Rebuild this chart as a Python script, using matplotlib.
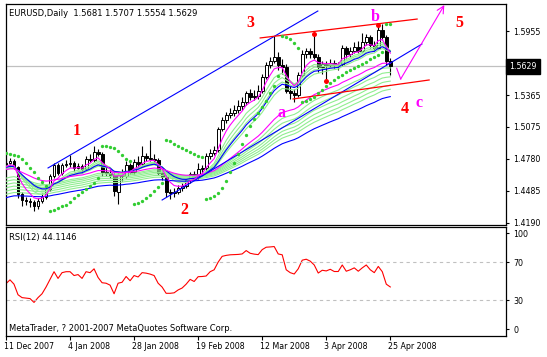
import matplotlib
matplotlib.use("Agg")
import matplotlib.pyplot as plt
import matplotlib.transforms as mtrans
import numpy as np

# ---------------- data ----------------
opens = [1.4700, 1.4740, 1.4760, 1.4700, 1.4450, 1.4400, 1.4390, 1.4380, 1.4340, 1.4390,
         1.4430, 1.4500, 1.4620, 1.4720, 1.4650, 1.4720, 1.4730, 1.4740, 1.4690, 1.4710,
         1.4680, 1.4780, 1.4770, 1.4840, 1.4820, 1.4660, 1.4650, 1.4630, 1.4470, 1.4630,
         1.4620, 1.4720, 1.4660, 1.4750, 1.4730, 1.4800, 1.4790, 1.4780, 1.4770, 1.4650,
         1.4610, 1.4470, 1.4460, 1.4470, 1.4510, 1.4530, 1.4580, 1.4640, 1.4610, 1.4680,
         1.4690, 1.4800, 1.4830, 1.4860, 1.5050, 1.5140, 1.5180, 1.5200, 1.5230, 1.5260,
         1.5300, 1.5380, 1.5350, 1.5360, 1.5400, 1.5530, 1.5640, 1.5680, 1.5720, 1.5640,
         1.5620, 1.5400, 1.5380, 1.5370, 1.5550, 1.5740, 1.5770, 1.5740, 1.5720, 1.5620,
         1.5650, 1.5640, 1.5660, 1.5640, 1.5650, 1.5800, 1.5740, 1.5770, 1.5810, 1.5770,
         1.5850, 1.5900, 1.5830, 1.5800, 1.5960, 1.5900, 1.5681]
highs = [1.4775, 1.4790, 1.4780, 1.4710, 1.4470, 1.4430, 1.4420, 1.4400, 1.4420, 1.4460,
         1.4520, 1.4640, 1.4740, 1.4740, 1.4740, 1.4770, 1.4810, 1.4760, 1.4740, 1.4730,
         1.4800, 1.4820, 1.4900, 1.4870, 1.4840, 1.4700, 1.4680, 1.4650, 1.4660, 1.4680,
         1.4760, 1.4740, 1.4780, 1.4800, 1.4900, 1.4830, 1.4950, 1.4820, 1.4790, 1.4680,
         1.4630, 1.4500, 1.4510, 1.4540, 1.4560, 1.4600, 1.4660, 1.4670, 1.4740, 1.4720,
         1.4830, 1.4870, 1.4900, 1.5070, 1.5160, 1.5210, 1.5250, 1.5270, 1.5320, 1.5350,
         1.5400, 1.5420, 1.5410, 1.5460, 1.5560, 1.5670, 1.5720, 1.5905, 1.5760, 1.5700,
         1.5650, 1.5450, 1.5420, 1.5580, 1.5780, 1.5800, 1.5800, 1.5925, 1.5740, 1.5680,
         1.5680, 1.5700, 1.5690, 1.5670, 1.5830, 1.5820, 1.5810, 1.5850, 1.5860, 1.5940,
         1.5930, 1.5920, 1.5860, 1.6000, 1.6019, 1.5920, 1.5707]
lows = [1.4680, 1.4700, 1.4680, 1.4420, 1.4340, 1.4350, 1.4330, 1.4300, 1.4320, 1.4370,
        1.4410, 1.4480, 1.4600, 1.4630, 1.4630, 1.4700, 1.4700, 1.4670, 1.4680, 1.4650,
        1.4670, 1.4750, 1.4750, 1.4800, 1.4620, 1.4620, 1.4600, 1.4440, 1.4360, 1.4570,
        1.4600, 1.4640, 1.4640, 1.4700, 1.4710, 1.4760, 1.4760, 1.4740, 1.4630, 1.4580,
        1.4430, 1.4410, 1.4430, 1.4450, 1.4480, 1.4510, 1.4560, 1.4590, 1.4590, 1.4650,
        1.4670, 1.4780, 1.4810, 1.4840, 1.5030, 1.5110, 1.5150, 1.5170, 1.5200, 1.5230,
        1.5270, 1.5320, 1.5320, 1.5330, 1.5380, 1.5510, 1.5610, 1.5660, 1.5600, 1.5560,
        1.5380, 1.5330, 1.5300, 1.5350, 1.5530, 1.5710, 1.5710, 1.5700, 1.5580, 1.5560,
        1.5510, 1.5620, 1.5610, 1.5600, 1.5630, 1.5710, 1.5720, 1.5750, 1.5750, 1.5760,
        1.5830, 1.5800, 1.5770, 1.5790, 1.5870, 1.5640, 1.5554]
closes = [1.4740, 1.4760, 1.4700, 1.4450, 1.4400, 1.4390, 1.4380, 1.4340, 1.4390, 1.4430,
          1.4500, 1.4620, 1.4720, 1.4650, 1.4720, 1.4730, 1.4740, 1.4690, 1.4710, 1.4680,
          1.4780, 1.4770, 1.4840, 1.4820, 1.4660, 1.4650, 1.4630, 1.4480, 1.4630, 1.4620,
          1.4720, 1.4660, 1.4750, 1.4730, 1.4800, 1.4790, 1.4780, 1.4770, 1.4650, 1.4610,
          1.4470, 1.4460, 1.4470, 1.4510, 1.4530, 1.4580, 1.4640, 1.4610, 1.4680, 1.4690,
          1.4800, 1.4830, 1.4860, 1.5050, 1.5140, 1.5180, 1.5200, 1.5230, 1.5260, 1.5300,
          1.5380, 1.5350, 1.5360, 1.5400, 1.5530, 1.5640, 1.5680, 1.5720, 1.5640, 1.5620,
          1.5400, 1.5380, 1.5370, 1.5550, 1.5740, 1.5770, 1.5740, 1.5720, 1.5620, 1.5650,
          1.5640, 1.5660, 1.5640, 1.5645, 1.5800, 1.5740, 1.5770, 1.5810, 1.5770, 1.5850,
          1.5900, 1.5830, 1.5800, 1.5960, 1.5900, 1.5681, 1.5629]
rsi = [47.6, 51.5, 47.0, 36.0, 33.0, 32.5, 32.0, 28.0, 33.0, 37.0,
       44.0, 52.0, 60.0, 53.0, 59.0, 60.0, 60.0, 56.0, 57.0, 53.0,
       60.0, 59.0, 63.0, 54.0, 48.5, 48.0, 46.0, 37.0, 48.0, 49.0,
       55.0, 50.6, 56.0, 54.5, 59.0, 58.5, 57.5, 56.0, 48.0, 44.0,
       37.5, 37.5, 38.0, 41.0, 43.0, 47.0, 52.0, 49.8, 54.8, 55.0,
       55.5, 60.0, 62.0, 70.0, 76.0, 77.0, 77.6, 77.8, 78.0, 78.5,
       82.0, 79.2, 78.3, 77.8, 83.0, 85.5, 85.8, 86.2, 78.5, 77.6,
       62.0, 59.0, 57.6, 63.0, 72.0, 73.0, 71.0, 67.0, 58.6, 61.5,
       60.8, 62.5, 60.2, 60.2, 67.0, 60.5, 62.0, 64.0, 60.5, 64.0,
       67.0, 62.0, 59.0, 65.5, 60.0, 47.0, 44.1]

date_labels = ["11 Dec 2007", "4 Jan 2008", "28 Jan 2008", "19 Feb 2008",
               "12 Mar 2008", "3 Apr 2008", "25 Apr 2008"]
date_bars = [0, 16, 32, 48, 64, 80, 96]
price_ticks = [1.5955, 1.5660, 1.5365, 1.5075, 1.4780, 1.4485, 1.4190]
rsi_ticks = [100, 70, 30, 0]
last_price = 1.5629
rsi_last = 44.1146

# moving averages: (period, value at first bar)
magenta_fast = (5, 1.4705)
magenta_slow = (30, 1.4680)
blue_fast = (13, 1.4700)
blue_slow = (70, 1.4420)
ribbon_periods = [8, 10, 12, 15, 35, 40, 45, 50, 55, 60]
ribbon_starts = [1.4710, 1.4700, 1.4690, 1.4680, 1.4600, 1.4570, 1.4540, 1.4510, 1.4480, 1.4450]
sar_start = (1.4830, 0.06)   # SAR value and acceleration at first bar (down trend)

# hand-drawn objects (bar index, price)
blue_lines = [[(10.5, 1.4694), (77.9, 1.6139)], [(39.0, 1.4399), (103.9, 1.5835)]]
red_lines = [[(63.5, 1.5891), (102.7, 1.6065)], [(71.7, 1.5329), (105.7, 1.5504)]]
wave_path = [(97.6, 1.5612), (98.6, 1.5513), (109.5, 1.6194)]
red_dots = [(77, 1.5927), (80, 1.5495), (93, 1.6010)]
red_labels = [("1", 17.7, 1.4998), ("2", 44.6, 1.4267), ("3", 61.0, 1.5995),
              ("4", 99.7, 1.5197), ("5", 113.2, 1.5995)]
mag_labels = [("a", 68.9, 1.5160), ("b", 92.2, 1.6050), ("c", 103.2, 1.5258)]

# ---------------- indicators ----------------
def ema(vals, period, start):
    a = 2.0 / (period + 1)
    out = [start]
    e = start
    for v in vals[1:]:
        e = e + a * (v - e)
        out.append(e)
    return np.array(out)

def psar(h, l, sar0, af0, step=0.02, amax=0.2):
    n = len(h)
    sar = np.zeros(n)
    trend = -1
    s = sar0
    af = af0
    ep = l[0]
    sar[0] = s
    for i in range(1, n):
        s = s + af * (ep - s)
        if trend < 0:
            s = max(s, h[i - 1], h[max(i - 2, 0)])
            if h[i] > s:
                trend = 1
                s = ep
                ep = h[i]
                af = step
            elif l[i] < ep:
                ep = l[i]
                af = min(af + step, amax)
        else:
            s = min(s, l[i - 1], l[max(i - 2, 0)])
            if l[i] < s:
                trend = -1
                s = ep
                ep = l[i]
                af = step
            elif h[i] > ep:
                ep = h[i]
                af = min(af + step, amax)
        sar[i] = s
    return sar

o = np.array(opens); h = np.array(highs); l = np.array(lows); c = np.array(closes)
x = np.arange(len(c))

# ---------------- figure ----------------
W, H = 547, 357
fig = plt.figure(figsize=(W / 100, H / 100), dpi=100)
fig.patch.set_facecolor("white")

def px_axes(left, top, right, bottom):
    return fig.add_axes([left / W, 1 - bottom / H, (right - left) / W, (bottom - top) / H])

ax = px_axes(5.5, 4, 505.7, 225)
ax2 = px_axes(5.5, 227.3, 505.7, 335.7)

XL = (-0.125, 124.83)
for a in (ax, ax2):
    a.set_xlim(*XL)
    for s in a.spines.values():
        s.set_linewidth(0.9)
        s.set_color("black")
ax.set_ylim(1.41688, 1.62036)
ax2.set_ylim(-6.67, 106.25)

# last price line
ax.axhline(last_price, color="#C0C0C0", lw=0.9, zorder=1)

# candles
ax.vlines(x, l, h, color="black", lw=0.8, zorder=2)
up = c >= o
ax.bar(x[up], (c - o)[up], bottom=o[up], width=0.72, facecolor="white",
       edgecolor="black", lw=0.7, zorder=2.5)
ax.bar(x[~up], (o - c)[~up], bottom=c[~up], width=0.72, facecolor="black",
       edgecolor="black", lw=0.7, zorder=2.5)

# ribbon
for p, s0 in zip(ribbon_periods, ribbon_starts):
    ax.plot(x, ema(c, p, s0), color="#90EE90", lw=0.8, zorder=3)
ax.plot(x, ema(c, *blue_slow), color="#0000FF", lw=0.8, zorder=3.2)
ax.plot(x, ema(c, *blue_fast), color="#0000FF", lw=0.8, zorder=3.2)
ax.plot(x, ema(c, *magenta_slow), color="#FF00FF", lw=0.8, zorder=3.3)
ax.plot(x, ema(c, *magenta_fast), color="#FF00FF", lw=0.8, zorder=3.3)

# parabolic SAR
ax.plot(x, psar(h, l, *sar_start), "o", color="#32CD32", ms=2.4, mec="none", zorder=4)

# hand-drawn objects
for seg in blue_lines:
    xs, ys = zip(*seg)
    ax.plot(xs, ys, color="#0000FF", lw=0.8, zorder=3.5)
for seg in red_lines:
    xs, ys = zip(*seg)
    ax.plot(xs, ys, color="#FF0000", lw=0.9, zorder=3.5)
wx, wy = zip(*wave_path)
ax.plot(wx[:2], wy[:2], color="#FF00FF", lw=0.8, zorder=3.5)
ax.annotate("", xy=wave_path[2], xytext=wave_path[1],
            arrowprops=dict(arrowstyle="->,head_length=0.5,head_width=0.25",
                            color="#FF00FF", lw=0.8, shrinkA=0, shrinkB=0), zorder=3.5)
rx, ry = zip(*red_dots)
ax.plot(rx, ry, "o", color="#FF0000", ms=3.6, mec="none", zorder=4.5)

for t, bx, py in red_labels:
    ax.text(bx, py, t, color="#FF0000", fontsize=11.5, fontweight="bold",
            family="Liberation Serif", ha="center", va="baseline", zorder=5)
for t, bx, py in mag_labels:
    ax.text(bx, py, t, color="#FF00FF", fontsize=11.5, fontweight="bold",
            family="Liberation Serif", ha="center", va="baseline", zorder=5)

# main price axis
ax.set_xticks([])
ax.yaxis.tick_right()
ax.set_yticks(price_ticks)
ax.set_yticklabels(["%.4f" % v for v in price_ticks])
ax.tick_params(axis="y", direction="out", length=2.5, width=0.8, pad=3,
               labelsize=5.7, colors="black")
price_box = ax.text(1.0, last_price, "%.4f" % last_price,
                    transform=mtrans.blended_transform_factory(ax.transAxes, ax.transData)
                    + mtrans.ScaledTranslation(3.5 / 100, 0, fig.dpi_scale_trans),
                    ha="left", va="center", color="white", fontsize=5.7, zorder=10,
                    bbox=dict(boxstyle="square,pad=0.42", facecolor="black", edgecolor="black"),
                    clip_on=False)

# RSI panel
ax2.plot(x, rsi, color="#FF0000", lw=0.8)
for lev in (70, 30):
    ax2.axhline(lev, color="#C0C0C0", lw=0.8, ls=(0, (3, 3)))
ax2.yaxis.tick_right()
ax2.set_yticks(rsi_ticks)
ax2.set_yticklabels([str(v) for v in rsi_ticks])
ax2.tick_params(axis="y", direction="out", length=2.5, width=0.8, pad=3,
                labelsize=5.7, colors="black")
ax2.set_xticks(date_bars)
ax2.set_xticklabels(date_labels)
ax2.tick_params(axis="x", direction="out", length=3, width=0.8, pad=1.5,
                labelsize=5.7, colors="black")
off = mtrans.ScaledTranslation(-2.5 / 100, 0, fig.dpi_scale_trans)
for lbl in ax2.get_xticklabels():
    lbl.set_ha("left")
    lbl.set_transform(lbl.get_transform() + off)

# header texts
fig.text(9 / W, 1 - 13.3 / H, "EURUSD,Daily  %.4f %.4f %.4f %.4f" % (opens[-1], highs[-1], lows[-1], closes[-1]),
         fontsize=6.0, va="center", ha="left", color="black")
fig.text(9 / W, 1 - 237.3 / H, "RSI(12) %.4f" % rsi_last,
         fontsize=6.0, va="center", ha="left", color="black")
fig.text(9 / W, 1 - 328.3 / H, "MetaTrader, ? 2001-2007 MetaQuotes Software Corp.",
         fontsize=6.0, va="center", ha="left", color="black")

fig.savefig("out.png", dpi=100, facecolor="white")
